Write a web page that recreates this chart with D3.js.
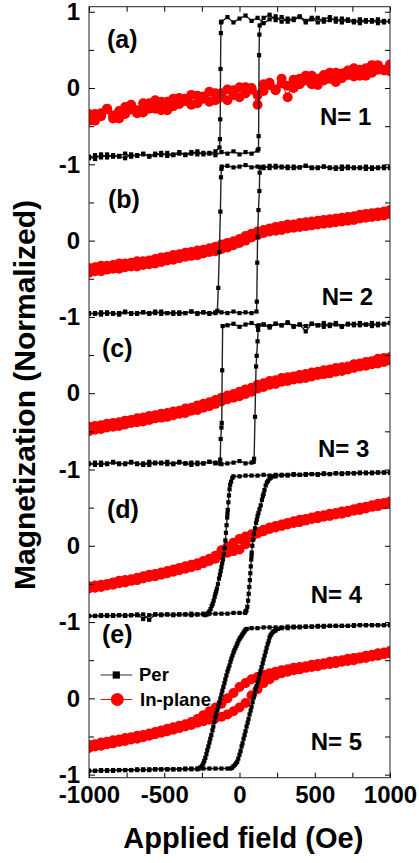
<!DOCTYPE html>
<html>
<head>
<meta charset="utf-8">
<script src="https://cdn.jsdelivr.net/npm/d3@7"></script>
<style>
  body { margin: 0; background: #fff; }
  svg text { font-family: "Liberation Sans", Arial, Helvetica, sans-serif; font-weight: bold; fill: #000; }
</style>
</head>
<body>
<div id="graph"></div>
<script>
const w = 419;
const h = 863;
const plotLeft = 89, plotRight = 390, plotTop = 6.7, plotBottom = 777.7;

// applied field of every sweep point (Oe)
const fieldGrid = [-1000,-960,-920,-880,-840,-800,-760,-720,-680,-640,-600,-560,-520,-480,-440,-400,-360,-320,-280,-240,
  -200,-160,-120,-80,-40,0,40,80,120,160,200,240,280,320,360,400,440,480,520,560,600,640,680,720,760,800,840,880,920,960,1000];

// tick labels
const xMajor = [-1000, -500, 0, 500, 1000];
const xTickLabels = ['-1000', '-500', '0', '500', '1000'];
const xMinor = [-750, -250, 250, 750];
const yMajor = [1, 0, -1, -2, -3, -4, -5, -6, -7, -8, -9];
const yTickLabels = ['1', '0', '-1', '0', '-1', '0', '-1', '0', '-1', '0', '-1'];
const yMinor = [0.5, -0.5, -1.5, -2.5, -3.5, -4.5, -5.5, -6.5, -7.5, -8.5];

const panelTags = ['(a)', '(b)', '(c)', '(d)', '(e)'];
const layerTags = ['N= 1', 'N= 2', 'N= 3', 'N= 4', 'N= 5'];
const seriesNames = ['Per', 'In-plane'];

// ---- In-plane (red), descending and ascending sweeps on fieldGrid
const inDownN1 = [-0.34,-0.43,-0.33,-0.27,-0.36,-0.40,-0.25,-0.28,-0.33,-0.20,-0.27,-0.16,-0.29,-0.18,-0.24,-0.13,-0.17,-0.22,-0.10,-0.14,
  -0.05,-0.16,-0.07,-0.16,-0.03,0.01,-0.07,-0.02,-0.09,0.05,0.04,-0.02,0.12,0.03,0.00,0.12,0.16,0.05,0.12,0.10,0.20,0.08,0.19,0.23,0.15,0.24,0.16,0.30,0.24,0.23,0.31];
const inUpN1 = [-0.43,-0.34,-0.37,-0.28,-0.40,-0.30,-0.34,-0.22,-0.29,-0.32,-0.20,-0.27,-0.18,-0.29,-0.14,-0.21,-0.14,-0.09,-0.20,-0.11,
  -0.18,-0.07,-0.12,-0.02,-0.09,-0.12,0.01,0.00,-0.22,-0.04,0.07,-0.03,0.06,-0.12,0.11,0.05,0.10,0.16,0.04,0.17,0.12,0.20,0.13,0.17,0.26,0.16,0.26,0.20,0.30,0.24,0.22];
const inDownN2 = [-0.36,-0.35,-0.33,-0.33,-0.32,-0.30,-0.30,-0.29,-0.27,-0.27,-0.26,-0.24,-0.22,-0.21,-0.19,-0.18,-0.16,-0.15,-0.13,-0.12,
  -0.10,-0.08,-0.05,-0.03,-0.01,0.02,0.06,0.09,0.12,0.14,0.16,0.18,0.19,0.21,0.21,0.23,0.24,0.25,0.26,0.27,0.28,0.29,0.30,0.31,0.32,0.34,0.35,0.36,0.37,0.38,0.40];
const inUpN2 = [-0.42,-0.40,-0.40,-0.38,-0.37,-0.37,-0.35,-0.34,-0.34,-0.32,-0.31,-0.30,-0.28,-0.26,-0.25,-0.23,-0.21,-0.20,-0.19,-0.17,
  -0.15,-0.14,-0.11,-0.09,-0.06,-0.03,0.00,0.04,0.07,0.10,0.12,0.13,0.14,0.16,0.17,0.18,0.19,0.20,0.21,0.22,0.23,0.24,0.25,0.26,0.27,0.29,0.30,0.31,0.32,0.33,0.35];
const inDownN3 = [-0.44,-0.43,-0.42,-0.40,-0.39,-0.38,-0.36,-0.35,-0.33,-0.32,-0.30,-0.29,-0.27,-0.26,-0.24,-0.23,-0.20,-0.19,-0.16,-0.14,
  -0.12,-0.09,-0.06,-0.03,-0.01,0.02,0.05,0.07,0.11,0.13,0.16,0.17,0.20,0.21,0.22,0.24,0.25,0.27,0.28,0.30,0.31,0.33,0.34,0.35,0.38,0.39,0.41,0.42,0.45,0.46,0.47];
const inUpN3 = [-0.50,-0.48,-0.47,-0.45,-0.44,-0.43,-0.41,-0.39,-0.38,-0.37,-0.35,-0.33,-0.32,-0.31,-0.29,-0.27,-0.26,-0.23,-0.22,-0.19,
  -0.17,-0.14,-0.11,-0.08,-0.06,-0.04,-0.01,0.02,0.06,0.08,0.11,0.12,0.15,0.16,0.18,0.19,0.20,0.22,0.24,0.25,0.26,0.28,0.29,0.31,0.33,0.35,0.36,0.38,0.39,0.41,0.43];
const inDownN4 = [-0.53,-0.52,-0.51,-0.50,-0.48,-0.46,-0.45,-0.44,-0.42,-0.40,-0.38,-0.37,-0.35,-0.33,-0.31,-0.29,-0.27,-0.25,-0.23,-0.20,
  -0.17,-0.13,-0.06,-0.01,0.04,0.09,0.12,0.15,0.18,0.21,0.24,0.26,0.28,0.30,0.32,0.34,0.35,0.37,0.39,0.40,0.42,0.43,0.45,0.46,0.48,0.50,0.51,0.53,0.55,0.56,0.58];
const inUpN4 = [-0.56,-0.55,-0.54,-0.52,-0.51,-0.49,-0.48,-0.46,-0.45,-0.43,-0.41,-0.40,-0.38,-0.36,-0.34,-0.32,-0.30,-0.28,-0.26,-0.23,
  -0.20,-0.17,-0.12,-0.09,-0.07,-0.05,0.02,0.11,0.16,0.19,0.22,0.24,0.26,0.28,0.30,0.31,0.33,0.35,0.36,0.38,0.39,0.41,0.42,0.44,0.46,0.47,0.49,0.51,0.52,0.54,0.56];
const inDownN5 = [-0.61,-0.60,-0.58,-0.57,-0.55,-0.54,-0.52,-0.51,-0.49,-0.48,-0.46,-0.44,-0.42,-0.40,-0.38,-0.36,-0.34,-0.31,-0.27,-0.22,
  -0.17,-0.12,-0.07,0.00,0.07,0.15,0.20,0.25,0.28,0.31,0.33,0.35,0.37,0.38,0.40,0.41,0.42,0.44,0.45,0.46,0.48,0.49,0.50,0.52,0.53,0.54,0.56,0.57,0.59,0.60,0.62];
const inUpN5 = [-0.65,-0.63,-0.62,-0.60,-0.59,-0.57,-0.56,-0.54,-0.53,-0.51,-0.49,-0.47,-0.45,-0.43,-0.41,-0.39,-0.37,-0.35,-0.32,-0.30,
  -0.28,-0.26,-0.24,-0.21,-0.17,-0.12,-0.06,0.04,0.12,0.20,0.25,0.30,0.33,0.35,0.37,0.38,0.40,0.41,0.42,0.44,0.45,0.46,0.48,0.49,0.50,0.52,0.53,0.55,0.56,0.58,0.59];

// ---- Per (black), values on fieldGrid plus extra [field, M] points read near the switching
const perDownN1 = [-0.92,-0.88,-0.91,-0.87,-0.90,-0.89,-0.86,-0.90,-0.88,-0.87,-0.89,-0.86,-0.88,-0.85,-0.88,-0.86,-0.87,-0.84,-0.87,-0.85,
  -0.86,-0.83,0.87,0.93,0.86,0.91,0.95,0.88,0.92,0.85,0.90,0.94,0.87,0.91,0.89,0.93,0.86,0.90,0.92,0.87,0.89,0.91,0.86,0.90,0.88,0.85,0.89,0.87,0.90,0.86,0.88];
const perDownN1Extra = [[-123,0.86],[-124,0.72],[-126,0.25],[-128,-0.41],[-130,-0.67],[-133,-0.78]];
const perUpN1 = [-0.90,-0.93,-0.87,-0.91,-0.88,-0.90,-0.92,-0.87,-0.89,-0.86,-0.90,-0.88,-0.85,-0.89,-0.87,-0.84,-0.88,-0.86,-0.83,-0.87,
  -0.85,-0.88,-0.84,-0.86,-0.83,-0.87,-0.84,-0.86,-0.82,0.92,0.96,0.89,0.93,0.87,0.91,0.94,0.88,0.92,0.86,0.90,0.93,0.87,0.91,0.88,0.86,0.90,0.87,0.89,0.85,0.88,0.87];
const perUpN1Extra = [[126,-0.80],[127,-0.63],[130,0.43],[132,0.70],[134,0.82]];

const perDownN2 = [-0.96,-0.95,-0.97,-0.94,-0.96,-0.95,-0.93,-0.96,-0.95,-0.94,-0.96,-0.95,-0.93,-0.95,-0.96,-0.94,-0.95,-0.93,-0.96,-0.94,
  -0.95,-0.94,0.94,0.98,0.96,0.97,0.99,0.96,0.97,0.95,0.98,0.96,0.97,0.95,0.97,0.96,0.98,0.95,0.96,0.97,0.95,0.96,0.94,0.97,0.95,0.96,0.94,0.96,0.95,0.97,0.95];
const perDownN2Extra = [[-118,0.97],[-123,0.83],[-127,0.38],[-134,-0.15],[-141,-0.62],[-147,-0.92]];
const perUpN2 = [-0.95,-0.96,-0.94,-0.96,-0.95,-0.97,-0.94,-0.95,-0.96,-0.94,-0.95,-0.93,-0.96,-0.95,-0.94,-0.96,-0.95,-0.93,-0.95,-0.94,
  -0.96,-0.95,-0.94,-0.95,-0.93,-0.95,-0.94,-0.95,0.05,0.97,0.95,0.98,0.96,0.97,0.95,0.96,0.98,0.96,0.95,0.97,0.96,0.94,0.97,0.95,0.96,0.95,0.97,0.94,0.96,0.95,0.96];
const perUpN2Extra = [[113,-0.93],[115,-0.80],[118,-0.29],[126,0.40],[132,0.65],[134,0.89],[137,0.96]];

const perDownN3 = [-0.93,-0.91,-0.94,-0.92,-0.91,-0.93,-0.92,-0.90,-0.93,-0.92,-0.94,-0.91,-0.92,-0.90,-0.93,-0.91,-0.92,-0.94,-0.91,-0.92,
  -0.90,-0.92,-0.45,0.89,0.91,0.87,0.90,0.92,0.88,0.90,0.86,0.91,0.89,0.93,0.88,0.90,0.81,0.91,0.89,0.92,0.88,0.90,0.87,0.91,0.89,0.92,0.90,0.88,0.91,0.90,0.92];
const perDownN3Extra = [[-112,0.88],[-115,0.30],[-118,-0.39],[-125,-0.60],[-128,-0.87],[-132,-0.92]];
const perUpN3 = [-0.92,-0.94,-0.91,-0.93,-0.90,-0.92,-0.93,-0.91,-0.92,-0.94,-0.90,-0.92,-0.91,-0.93,-0.92,-0.90,-0.92,-0.91,-0.93,-0.92,
  -0.90,-0.91,-0.93,-0.92,-0.91,-0.89,-0.92,-0.91,0.68,0.90,0.88,0.91,0.89,0.92,0.87,0.90,0.88,0.91,0.89,0.87,0.90,0.92,0.88,0.90,0.91,0.89,0.90,0.92,0.89,0.91,0.92];
const perUpN3Extra = [[94,-0.90],[97,-0.86],[103,-0.31],[110,0.35],[114,0.49],[124,0.83],[128,0.89]];

const perDownN4 = [-0.92,-0.92,-0.91,-0.92,-0.91,-0.91,-0.92,-0.91,-0.90,-0.96,-0.91,-0.90,-0.91,-0.90,-0.91,-0.90,-0.90,-0.91,-0.90,-0.90,
  -0.86,-0.63,-0.28,0.42,0.91,0.91,0.92,0.92,0.92,0.93,0.92,0.93,0.93,0.93,0.94,0.93,0.94,0.94,0.94,0.95,0.94,0.95,0.95,0.95,0.95,0.96,0.95,0.96,0.96,0.96,0.96];
const perDownN4Extra = [[-48,0.89],[-56,0.84],[-62,0.80],[-66,0.74],[-70,0.66],[-74,0.57],[-78,0.47],[-82,0.37],[-86,0.27],[-90,0.17],
  [-94,0.07],[-99,-0.03],[-104,-0.11],[-110,-0.18],[-115,-0.23],[-125,-0.33],[-130,-0.38],[-136,-0.43],[-143,-0.50],[-150,-0.56],
  [-155,-0.60],[-165,-0.67],[-172,-0.72],[-178,-0.76],[-185,-0.79],[-192,-0.83],[-208,-0.88],[-215,-0.90],[-228,-0.91]];
const perUpN4 = [-0.92,-0.92,-0.92,-0.91,-0.92,-0.91,-0.91,-0.91,-0.91,-0.90,-0.97,-0.90,-0.90,-0.90,-0.90,-0.90,-0.90,-0.89,-0.90,-0.89,
  -0.89,-0.89,-0.89,-0.89,-0.88,-0.88,-0.86,-0.13,0.39,0.68,0.88,0.91,0.92,0.92,0.93,0.93,0.93,0.94,0.93,0.94,0.94,0.95,0.94,0.95,0.95,0.95,0.96,0.95,0.96,0.96,0.96];
const perUpN4Extra = [[38,-0.88],[46,-0.85],[52,-0.80],[57,-0.72],[61,-0.63],[65,-0.54],[69,-0.45],[72,-0.36],[75,-0.27],[78,-0.18],
  [81,-0.09],[85,0.00],[90,0.08],[96,0.16],[103,0.23],[110,0.30],[115,0.34],[126,0.43],[133,0.48],[141,0.53],
  [149,0.60],[155,0.65],[166,0.73],[174,0.79],[182,0.83],[190,0.85],[207,0.89],[225,0.91]];

const perDownN5 = [-0.95,-0.95,-0.94,-0.95,-0.94,-0.94,-0.94,-0.94,-0.93,-0.94,-0.93,-0.93,-0.93,-0.93,-0.93,-0.93,-0.92,-0.93,-0.92,-0.85,
  -0.58,-0.25,0.05,0.35,0.60,0.78,0.90,0.92,0.92,0.93,0.93,0.93,0.93,0.94,0.94,0.94,0.94,0.94,0.95,0.95,0.95,0.95,0.95,0.95,0.96,0.96,0.96,0.96,0.96,0.96,0.96];
const perDownN5Extra = [[48,0.91],[34,0.88],[27,0.86],[20,0.84],[14,0.82],[7,0.80],[-7,0.75],[-14,0.72],[-20,0.69],[-27,0.66],[-34,0.63],
  [-47,0.56],[-54,0.52],[-60,0.48],[-67,0.43],[-74,0.39],[-87,0.30],[-94,0.25],[-100,0.20],[-107,0.15],[-114,0.10],
  [-127,0.00],[-134,-0.06],[-140,-0.10],[-147,-0.15],[-154,-0.20],[-167,-0.31],[-174,-0.37],[-180,-0.42],[-187,-0.48],[-194,-0.53],
  [-207,-0.63],[-214,-0.68],[-220,-0.73],[-227,-0.78],[-234,-0.82],[-247,-0.88],[-254,-0.90],[-262,-0.91],[-270,-0.92]];
const perUpN5 = [-0.95,-0.95,-0.95,-0.94,-0.95,-0.94,-0.94,-0.94,-0.94,-0.93,-0.94,-0.93,-0.93,-0.93,-0.93,-0.93,-0.93,-0.92,-0.93,-0.92,
  -0.92,-0.92,-0.92,-0.92,-0.89,-0.74,-0.43,-0.11,0.21,0.51,0.80,0.89,0.92,0.92,0.93,0.93,0.94,0.94,0.94,0.94,0.95,0.95,0.95,0.95,0.95,0.96,0.96,0.96,0.96,0.96,0.96];
const perUpN5Extra = [[-60,-0.92],[-50,-0.91],[-30,-0.87],[-22,-0.85],[-15,-0.83],[-8,-0.79],[7,-0.69],[14,-0.63],[20,-0.59],[27,-0.53],[34,-0.48],
  [47,-0.37],[54,-0.32],[60,-0.27],[67,-0.21],[74,-0.16],[87,-0.05],[94,0.01],[100,0.05],[107,0.11],[114,0.16],
  [127,0.26],[134,0.32],[140,0.36],[147,0.41],[154,0.46],[167,0.56],[174,0.61],[180,0.66],[187,0.71],[194,0.75],
  [207,0.83],[214,0.85],[222,0.87],[230,0.88],[255,0.91]];

const inDown = [inDownN1, inDownN2, inDownN3, inDownN4, inDownN5];
const inUp = [inUpN1, inUpN2, inUpN3, inUpN4, inUpN5];
const perDown = [perDownN1, perDownN2, perDownN3, perDownN4, perDownN5];
const perDownExtra = [perDownN1Extra, perDownN2Extra, perDownN3Extra, perDownN4Extra, perDownN5Extra];
const perUp = [perUpN1, perUpN2, perUpN3, perUpN4, perUpN5];
const perUpExtra = [perUpN1Extra, perUpN2Extra, perUpN3Extra, perUpN4Extra, perUpN5Extra];

// label placement (pixels)
const tagPos = [[107, 48], [108, 208], [102, 357], [107, 518], [102, 643]];
const layerPos = [[320, 125], [321.7, 305], [318, 456.7], [310.7, 603], [310.7, 750]];

const svg = d3.select('#graph')
  .append('svg')
  .attr('width', w)
  .attr('height', h);

svg.append('rect').attr('width', w).attr('height', h).attr('fill', '#fff');

const xScale = d3.scaleLinear().domain([-1000, 1000]).range([plotLeft, plotRight]);
const yScale = d3.scaleLinear().domain([-9.04, 1.066]).range([plotBottom, plotTop]);

svg.append('clipPath').attr('id', 'plot-clip')
  .append('rect')
  .attr('x', plotLeft).attr('y', plotTop)
  .attr('width', plotRight - plotLeft).attr('height', plotBottom - plotTop);

const plot = svg.append('g').attr('clip-path', 'url(#plot-clip)');

// each panel is shifted down by 2 units on the shared axis
const shift = i => -2 * i;

function onGrid(values) {
  return fieldGrid.map((f, k) => [f, values[k]]);
}
function sweep(values, extra, descending) {
  return onGrid(values).concat(extra)
    .sort((a, b) => descending ? b[0] - a[0] : a[0] - b[0]);
}

// In-plane first, Per on top
inDown.forEach((d, i) => {
  const off = shift(i);
  const line = d3.line().x(p => xScale(p[0])).y(p => yScale(p[1] + off));
  [onGrid(inDown[i]).reverse(), onGrid(inUp[i])].forEach(pts => {
    plot.append('path')
      .attr('d', line(pts))
      .attr('fill', 'none')
      .attr('stroke', '#ff0000')
      .attr('stroke-width', 1);
    plot.append('g').selectAll('circle')
      .data(pts)
      .enter()
      .append('circle')
      .attr('cx', p => xScale(p[0]))
      .attr('cy', p => yScale(p[1] + off))
      .attr('r', 5)
      .attr('fill', '#ff0000');
  });
});

perDown.forEach((d, i) => {
  const off = shift(i);
  const line = d3.line().x(p => xScale(p[0])).y(p => yScale(p[1] + off));
  [sweep(perDown[i], perDownExtra[i], true), sweep(perUp[i], perUpExtra[i], false)].forEach(pts => {
    plot.append('path')
      .attr('d', line(pts))
      .attr('fill', 'none')
      .attr('stroke', '#222')
      .attr('stroke-width', 1.4);
    plot.append('g').selectAll('rect')
      .data(pts)
      .enter()
      .append('rect')
      .attr('x', p => xScale(p[0]) - 2.1)
      .attr('y', p => yScale(p[1] + off) - 2.1)
      .attr('width', 4.2)
      .attr('height', 4.2)
      .attr('fill', '#000');
  });
});

// axes: ticks point inward
function styleAxis(g, size) {
  g.attr('font-family', null).attr('font-size', size);
  g.select('.domain').remove();
  g.selectAll('.tick line').attr('stroke', '#000');
  g.selectAll('.tick text').attr('fill', '#000');
}

svg.append('g')
  .attr('transform', 'translate(0,' + plotBottom + ')')
  .call(d3.axisBottom(xScale).tickValues(xMajor).tickSizeInner(-5).tickSizeOuter(0).tickPadding(8)
    .tickFormat((d, i) => xTickLabels[i]))
  .call(g => styleAxis(g, 24));
svg.append('g')
  .attr('transform', 'translate(0,' + plotBottom + ')')
  .call(d3.axisBottom(xScale).tickValues(xMinor).tickSizeInner(-5).tickSizeOuter(0).tickFormat(''))
  .call(g => styleAxis(g, 24));
svg.append('g')
  .attr('transform', 'translate(0,' + plotTop + ')')
  .call(d3.axisTop(xScale).tickValues(xMajor.concat(xMinor)).tickSizeInner(-5).tickSizeOuter(0).tickFormat(''))
  .call(g => styleAxis(g, 24));

svg.append('g')
  .attr('transform', 'translate(' + plotLeft + ',0)')
  .call(d3.axisLeft(yScale).tickValues(yMajor).tickSizeInner(-6).tickSizeOuter(0).tickPadding(9)
    .tickFormat((d, i) => yTickLabels[i]))
  .call(g => styleAxis(g, 24));
svg.append('g')
  .attr('transform', 'translate(' + plotLeft + ',0)')
  .call(d3.axisLeft(yScale).tickValues(yMinor).tickSizeInner(-5).tickSizeOuter(0).tickFormat(''))
  .call(g => styleAxis(g, 24));
svg.append('g')
  .attr('transform', 'translate(' + plotRight + ',0)')
  .call(d3.axisRight(yScale).tickValues(yMajor.concat(yMinor)).tickSizeInner(-5).tickSizeOuter(0).tickFormat(''))
  .call(g => styleAxis(g, 24));

// frame
svg.append('rect')
  .attr('x', plotLeft).attr('y', plotTop)
  .attr('width', plotRight - plotLeft).attr('height', plotBottom - plotTop)
  .attr('fill', 'none')
  .attr('stroke', '#222')
  .attr('stroke-width', 1);

// panel tags and layer numbers
panelTags.forEach((t, i) => {
  svg.append('text').attr('x', tagPos[i][0]).attr('y', tagPos[i][1])
    .style('font-size', '25px').text(t);
  svg.append('text').attr('x', layerPos[i][0]).attr('y', layerPos[i][1])
    .style('font-size', '24px').text(layerTags[i]);
});

// legend
const legend = svg.append('g').attr('class', 'legendBox');
legend.append('line').attr('x1', 100.7).attr('x2', 132.3).attr('y1', 675).attr('y2', 675)
  .attr('stroke', '#333').attr('stroke-width', 1.1);
legend.append('rect').attr('x', 116.3 - 3.6).attr('y', 675 - 3.6).attr('width', 7.2).attr('height', 7.2).attr('fill', '#000');
legend.append('text').attr('x', 139).attr('y', 681).style('font-size', '18.5px').text(seriesNames[0]);
legend.append('line').attr('x1', 100.7).attr('x2', 132.3).attr('y1', 699.5).attr('y2', 699.5)
  .attr('stroke', '#ff0000').attr('stroke-width', 1.1);
legend.append('circle').attr('cx', 117.3).attr('cy', 699.5).attr('r', 6.5).attr('fill', '#ff0000');
legend.append('text').attr('x', 140).attr('y', 705.5).style('font-size', '18.5px').text(seriesNames[1]);

// axis titles
svg.append('text')
  .attr('transform', 'translate(35,395) rotate(-90)')
  .attr('text-anchor', 'middle')
  .style('font-size', '30px')
  .text('Magnetization (Normalized)');
svg.append('text')
  .attr('x', 243.3)
  .attr('y', 848)
  .attr('text-anchor', 'middle')
  .style('font-size', '29px')
  .text('Applied field (Oe)');
</script>
</body>
</html>
